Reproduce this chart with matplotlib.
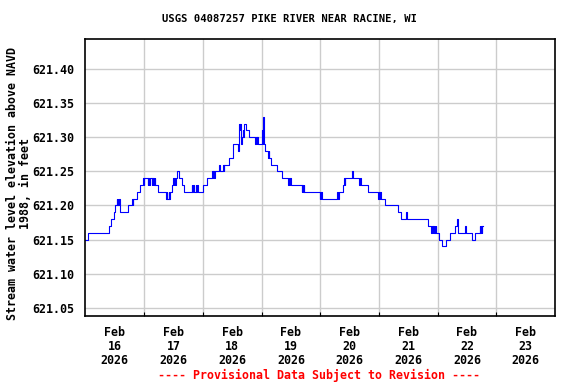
import numpy as np
import matplotlib
matplotlib.use("Agg")
import matplotlib.pyplot as plt

# hours since Feb 16 2026 00:00, and gage height (ft) from that time on
hours = [0.0, 1.0, 9.5, 10.5, 11.5, 12.25, 12.75, 13.0, 13.25, 13.5, 13.75, 14.0, 14.25,
         17.5, 19.0, 19.25, 19.5, 21.0, 22.5, 23.5, 23.75, 24.0, 25.5, 25.75, 26.0, 26.25,
         27.0, 27.25, 27.5, 27.75, 28.0, 28.25, 28.5, 29.75, 33.0, 33.25, 33.5, 34.0, 34.25,
         34.5, 35.5, 35.75, 36.0, 36.25, 36.75, 37.0, 37.5, 38.25, 39.5, 40.25, 43.5, 43.75,
         44.0, 44.5, 45.0, 45.25, 45.5, 46.0, 48.25, 49.75, 51.75, 52.0, 52.25, 52.5, 53.0,
         54.75, 55.0, 56.25, 56.5, 56.75, 58.75, 60.25, 60.5, 62.5, 62.75, 63.0, 63.25, 63.5,
         63.75, 64.0, 64.25, 64.5, 64.75, 65.0, 65.5, 67.0, 69.5, 69.75, 70.0, 70.25, 70.5,
         72.0, 72.25, 72.5, 72.75, 73.0, 73.25, 74.5, 75.0, 75.25, 76.0, 78.5, 80.5, 82.75,
         83.25, 83.5, 83.75, 84.0, 88.5, 88.75, 89.0, 89.25, 89.5, 95.75, 96.0, 96.25, 96.5,
         96.75, 103.0, 103.25, 103.5, 105.25, 105.75, 106.0, 106.25, 109.0, 109.25, 112.0,
         112.25, 112.5, 115.5, 119.75, 120.0, 120.25, 120.5, 120.75, 122.5, 128.0, 129.0,
         131.25, 131.5, 140.0, 141.5, 141.75, 142.0, 142.25, 142.5, 142.75, 143.0, 143.25,
         143.5, 144.75, 145.75, 147.25, 149.0, 151.0, 152.0, 152.5, 155.25, 155.5, 158.0,
         159.25, 161.25, 161.5, 161.75, 162.0, 162.25, 162.75]
level = [621.15, 621.16, 621.17, 621.18, 621.19, 621.20, 621.21, 621.20, 621.21, 621.20, 621.21, 621.20, 621.19,
         621.20, 621.21, 621.20, 621.21, 621.22, 621.23, 621.24, 621.23, 621.24, 621.23, 621.24, 621.23, 621.24,
         621.23, 621.24, 621.23, 621.24, 621.23, 621.24, 621.23, 621.22, 621.21, 621.22, 621.21, 621.22, 621.21,
         621.22, 621.23, 621.24, 621.23, 621.24, 621.23, 621.24, 621.25, 621.24, 621.23, 621.22, 621.23, 621.22,
         621.23, 621.22, 621.23, 621.22, 621.23, 621.22, 621.23, 621.24, 621.25, 621.24, 621.25, 621.24, 621.25,
         621.26, 621.25, 621.26, 621.25, 621.26, 621.27, 621.28, 621.29, 621.28, 621.32, 621.31, 621.32, 621.30,
         621.29, 621.30, 621.31, 621.30, 621.31, 621.32, 621.31, 621.30, 621.29, 621.30, 621.29, 621.30, 621.29,
         621.30, 621.31, 621.29, 621.33, 621.29, 621.28, 621.27, 621.28, 621.27, 621.26, 621.25, 621.24, 621.23,
         621.24, 621.23, 621.24, 621.23, 621.22, 621.23, 621.22, 621.23, 621.22, 621.21, 621.22, 621.21, 621.22,
         621.21, 621.22, 621.21, 621.22, 621.23, 621.24, 621.23, 621.24, 621.25, 621.24, 621.23,
         621.24, 621.23, 621.22, 621.21, 621.22, 621.21, 621.22, 621.21, 621.20, 621.19, 621.18,
         621.19, 621.18, 621.17, 621.16, 621.17, 621.16, 621.17, 621.16, 621.17, 621.16, 621.17,
         621.16, 621.15, 621.14, 621.15, 621.16, 621.17, 621.18, 621.16, 621.17, 621.16, 621.15,
         621.16, 621.17, 621.16, 621.17, 621.16, 621.17, 621.17]

day_labels = ["Feb\n16\n2026", "Feb\n17\n2026", "Feb\n18\n2026", "Feb\n19\n2026",
              "Feb\n20\n2026", "Feb\n21\n2026", "Feb\n22\n2026", "Feb\n23\n2026"]
y_ticks = [621.05, 621.10, 621.15, 621.20, 621.25, 621.30, 621.35, 621.40]

mono = "DejaVu Sans Mono"

fig = plt.figure(figsize=(5.76, 3.84), dpi=100)
ax = fig.add_axes([0.1484, 0.1771, 0.8151, 0.7213])

ax.plot(hours, level, drawstyle="steps-post", color="#0000ff", lw=0.8)

ax.set_xlim(0, 192)
ax.set_ylim(621.038, 621.444)

# grid at midnights, labels at noon
ax.set_xticks(np.arange(24, 192, 24))
ax.set_xticklabels([])
ax.set_xticks(np.arange(12, 192, 24), minor=True)
ax.set_xticklabels(day_labels, minor=True, fontfamily=mono, fontweight="bold",
                   fontsize=8.4, linespacing=1.1)
ax.tick_params(axis="x", which="major", length=3, direction="in")
ax.tick_params(axis="x", which="minor", length=0, pad=7)

ax.set_yticks(y_ticks)
ax.set_yticklabels(["%.2f" % v for v in y_ticks], fontfamily=mono,
                   fontweight="bold", fontsize=8.4)
ax.tick_params(axis="y", length=0, pad=8)

ax.grid(True, which="major", color="#cccccc", lw=1.0)
ax.set_axisbelow(True)
for s in ax.spines.values():
    s.set_linewidth(1.2)

fig.text(0.502, 0.95, "USGS 04087257 PIKE RIVER NEAR RACINE, WI", ha="center",
         va="center", fontfamily=mono, fontweight="bold", fontsize=7.6)
fig.text(0.033, 0.523, "Stream water level elevation above NAVD\n1988, in feet",
         rotation=90, ha="center", va="center", multialignment="center",
         fontfamily=mono, fontweight="bold", fontsize=8.4, linespacing=1.0)
fig.text(0.553, 0.023, "---- Provisional Data Subject to Revision ----", ha="center",
         va="center", color="red", fontfamily=mono, fontweight="bold", fontsize=8.4)

fig.savefig("out.png", dpi=100)
